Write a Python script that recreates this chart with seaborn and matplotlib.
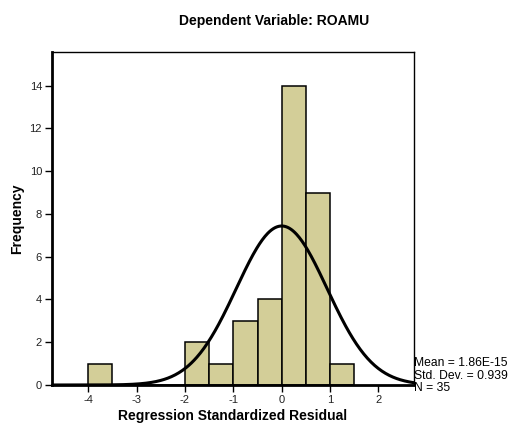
import numpy as np
import pandas as pd
import matplotlib
matplotlib.use("Agg")
import matplotlib.pyplot as plt
import seaborn as sns

# Histogram of regression standardized residuals (bin width 0.5)
bin_left = [-4.0, -3.5, -3.0, -2.5, -2.0, -1.5, -1.0, -0.5, 0.0, 0.5, 1.0]
counts = [1, 0, 0, 0, 2, 1, 3, 4, 14, 9, 1]
bin_width = 0.5
mean_val = 1.86e-15
std_val = 0.939
n_obs = 35
x_ticks = [-4, -3, -2, -1, 0, 1, 2]
y_ticks = [0, 2, 4, 6, 8, 10, 12, 14]

sns.set_theme(style="white")
plt.rcParams["font.family"] = ["Liberation Sans", "DejaVu Sans"]
plt.rcParams["text.color"] = "black"
plt.rcParams["axes.labelcolor"] = "black"

fig = plt.figure(figsize=(5.09, 4.32), dpi=100)
ax = fig.add_axes([0.1016, 0.1088, 0.7112, 0.7708])

df = pd.DataFrame({
    "center": np.array(bin_left) + bin_width / 2,
    "count": counts,
})
edges = list(bin_left) + [bin_left[-1] + bin_width]
sns.histplot(data=df, x="center", weights="count", bins=edges, ax=ax,
             color="#D3CE98", edgecolor="black", linewidth=1.1, alpha=1.0)

# Fitted normal curve scaled to counts
xlim = (-4.755, 2.73)
xs = np.linspace(xlim[0], xlim[1], 400)
ys = n_obs * bin_width / (std_val * np.sqrt(2 * np.pi)) * np.exp(-0.5 * ((xs - mean_val) / std_val) ** 2)
sns.lineplot(x=xs, y=ys, ax=ax, color="black", linewidth=2.2)

ax.set_xlim(*xlim)
ax.set_ylim(0, 15.57)
ax.set_xticks(x_ticks)
ax.set_xticklabels([str(t) for t in x_ticks], fontsize=8)
ax.set_yticks(y_ticks)
ax.set_yticklabels([str(t) for t in y_ticks], fontsize=8)
ax.tick_params(axis="both", direction="out", length=5, width=1, color="black",
               bottom=True, left=True, pad=2, labelcolor="#222222")

for side in ["left", "bottom"]:
    ax.spines[side].set_linewidth(2.0)
    ax.spines[side].set_color("black")
for side in ["top", "right"]:
    ax.spines[side].set_linewidth(1.0)
    ax.spines[side].set_color("black")

ax.set_xlabel("Regression Standardized Residual", fontsize=10, fontweight="bold", labelpad=3)
ax.set_ylabel("Frequency", fontsize=10, fontweight="bold", labelpad=4)
fig.text(0.538, 0.951, "Dependent Variable: ROAMU", ha="center", va="center",
         fontsize=10, fontweight="bold")

fig.text(0.813, 0.088,
         f"Mean = {mean_val:.2E}\nStd. Dev. = {std_val}\nN = {n_obs}",
         ha="left", va="bottom", fontsize=8.7, linespacing=1.05)

fig.savefig("out.png", dpi=100)
